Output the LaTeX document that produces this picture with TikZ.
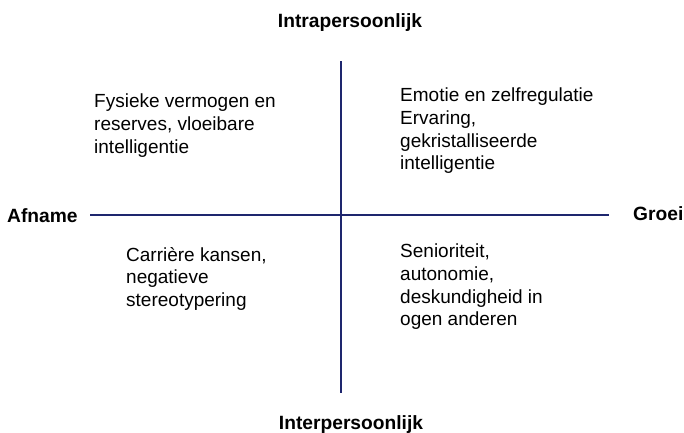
\documentclass[tikz,border=0pt]{standalone}
\usepackage{fontspec}
\setmainfont{Liberation Sans}
\definecolor{axisblue}{RGB}{30,38,110}
\begin{document}
\begin{tikzpicture}[x=1pt,y=-1pt,
  axis/.style={draw=axisblue,line width=1.3pt},
  title/.style={inner sep=0pt,font=\fontsize{19.2}{22}\selectfont\bfseries},
  quad/.style={inner sep=0pt,anchor=north west,align=left,font=\fontsize{19}{22.6}\selectfont}]
\useasboundingbox (0,0) rectangle (684,432);
\coordinate (hl) at (90,215);
\coordinate (hr) at (609,215);
\coordinate (vt) at (341,61);
\coordinate (vb) at (341,393);
\draw[axis] (hl) -- (hr);
\draw[axis] (vt) -- (vb);
\node[title,anchor=base] (intra) at (350,27) {Intrapersoonlijk};
\node[title,anchor=base] (inter) at (351,429) {Interpersoonlijk};
\node[title,anchor=base west] (afname) at (7,222) {Afname};
\node[title,anchor=base west] (groei) at (633,220) {Groei};
\node[quad] (tl) at (94,94) {Fysieke vermogen en\\reserves, vloeibare\\intelligentie};
\node[quad] (tr) at (400,88) {Emotie en zelfregulatie\\Ervaring,\\gekristalliseerde\\intelligentie};
\node[quad] (bl) at (126,247) {Carri\`ere kansen,\\negatieve\\stereotypering};
\node[quad] (br) at (400,244) {Senioriteit,\\autonomie,\\deskundigheid in\\ogen anderen};
\end{tikzpicture}
\end{document}
